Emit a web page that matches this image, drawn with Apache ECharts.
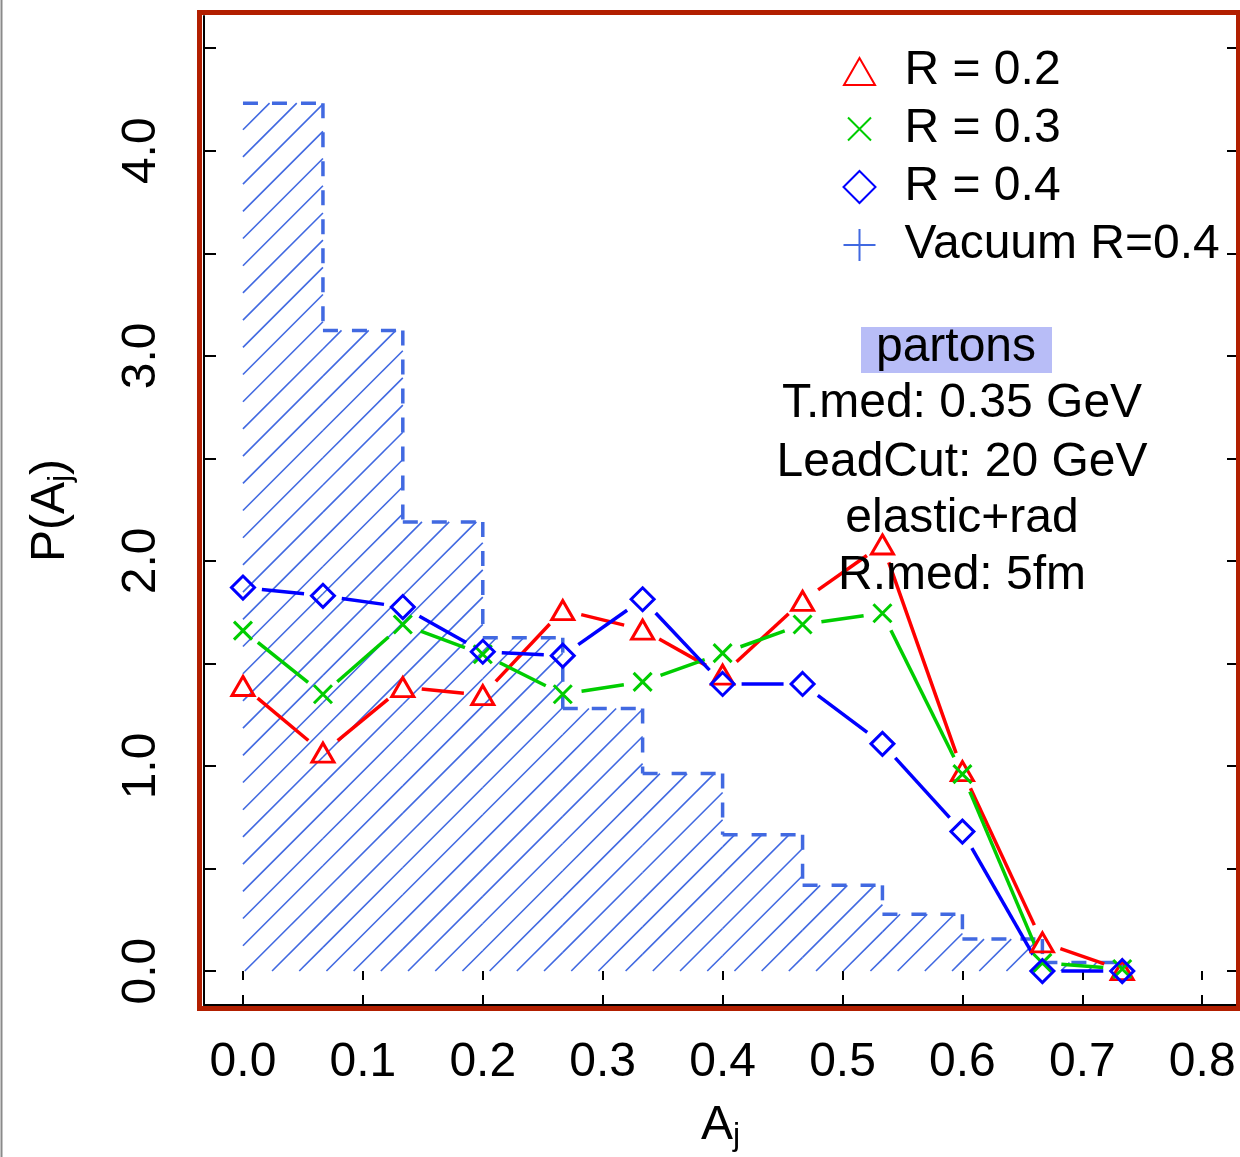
<!DOCTYPE html>
<html><head><meta charset="utf-8">
<script src="https://cdn.jsdelivr.net/npm/echarts@6/dist/echarts.min.js"></script>
<style>html,body{margin:0;padding:0;background:#fff}#c{width:1240px;height:1157px}</style>
</head><body><div id="c"></div>
<script>
// ---- data ----
const aj    = [0.0000, 0.0667, 0.1333, 0.2000, 0.2667, 0.3333, 0.4000, 0.4667, 0.5333, 0.6000, 0.6667, 0.7333];
const pR02  = [1.390, 1.065, 1.385, 1.345, 1.760, 1.665, 1.445, 1.805, 2.080, 0.975, 0.140, 0.005];
const pR03  = [1.660, 1.350, 1.690, 1.545, 1.350, 1.410, 1.550, 1.690, 1.745, 0.960, 0.040, 0.010];
const pR04  = [1.870, 1.830, 1.775, 1.557, 1.538, 1.813, 1.400, 1.400, 1.108, 0.680, 0.000, 0.000];
const binLo = [0.0000, 0.0667, 0.1333, 0.2000, 0.2667, 0.3333, 0.4000, 0.4667, 0.5333, 0.6000, 0.6667];
const binHi = [0.0667, 0.1333, 0.2000, 0.2667, 0.3333, 0.4000, 0.4667, 0.5333, 0.6000, 0.6667, 0.7333];
const pVac  = [4.232, 3.124, 2.190, 1.625, 1.280, 0.963, 0.665, 0.418, 0.277, 0.156, 0.042];
const xTicks  = [0.0, 0.1, 0.2, 0.3, 0.4, 0.5, 0.6, 0.7, 0.8];
const yTicks  = [0.0, 0.5, 1.0, 1.5, 2.0, 2.5, 3.0, 3.5, 4.0, 4.5];
const yLabels = [0.0, 1.0, 2.0, 3.0, 4.0];
const seriesNames = ['R = 0.2', 'R = 0.3', 'R = 0.4', 'Vacuum R=0.4'];
const infoLines = ['T.med: 0.35 GeV', 'LeadCut: 20 GeV', 'elastic+rad', 'R.med: 5fm'];

const FONT = 'Liberation Sans, Arial, Helvetica, sans-serif';
const FS = 48;
const RED = '#ff0000', GREEN = '#00cd00', BLUE = '#0000ff', RB = '#4169e1';

function segData(ys) {
  const out = [];
  for (let i = 0; i < ys.length - 1; i++) out.push([aj[i], ys[i], aj[i + 1], ys[i + 1]]);
  return out;
}
function segRender(color) {
  return function (params, api) {
    const p0 = api.coord([api.value(0), api.value(1)]);
    const p1 = api.coord([api.value(2), api.value(3)]);
    const dx = p1[0] - p0[0], dy = p1[1] - p0[1];
    const L = Math.hypot(dx, dy), g = 19;
    if (L <= 2 * g) return { type: 'group', children: [] };
    const ux = dx / L, uy = dy / L;
    return { type: 'line',
      shape: { x1: p0[0] + ux * g, y1: p0[1] + uy * g, x2: p1[0] - ux * g, y2: p1[1] - uy * g },
      style: { stroke: color, lineWidth: 3.5, fill: null } };
  };
}
const histData = binLo.map((lo, i) => [lo, binHi[i], pVac[i], i < pVac.length - 1 ? pVac[i + 1] : 0]);
function histRender(params, api) {
  const lo = api.value(0), hi = api.value(1), h = api.value(2), nh = api.value(3);
  const tl = api.coord([lo, h]), br = api.coord([hi, 0]);
  const x0 = tl[0], y0 = tl[1], x1 = br[0], y1 = br[1];
  const children = [];
  const sp = 27.2, off = 372.7;
  const cmin = x0 + y0, cmax = x1 + y1;
  const k = Math.ceil((cmin - off) / sp);
  for (let c = off + k * sp; c <= cmax; c += sp) {
    const xa = Math.max(x0, c - y1), xb = Math.min(x1, c - y0);
    if (xb > xa) children.push({ type: 'line', shape: { x1: xa, y1: c - xa, x2: xb, y2: c - xb },
      style: { stroke: RB, lineWidth: 1.6 } });
  }
  const dash = { stroke: RB, lineWidth: 3.5, lineDash: [15, 14] };
  children.push({ type: 'line', shape: { x1: x0, y1: y0, x2: x1, y2: y0 }, style: dash });
  const pn = api.coord([hi, nh]);
  children.push({ type: 'line', shape: { x1: x1, y1: y0, x2: x1, y2: pn[1] }, style: dash });
  return { type: 'group', children };
}

const chart = echarts.init(document.getElementById('c'), null, { renderer: 'canvas' });
const richName = {
  a: { fontSize: FS, fontFamily: FONT, color: '#000', lineHeight: 48, verticalAlign: 'top' },
  s: { fontSize: 32, fontFamily: FONT, color: '#000', lineHeight: 50, verticalAlign: 'bottom' }
};
const infoGraphics = infoLines.map((t, i) => ({
  type: 'text', x: 962, y: [404, 462.5, 518.5, 576][i], z: 101,
  style: { text: t, fontSize: FS, fontFamily: FONT, fill: '#000', align: 'center', verticalAlign: 'middle' }
}));

chart.setOption({
  animation: false,
  backgroundColor: '#fff',
  grid: { left: 204, right: 3, top: 16, bottom: 152, containLabel: false, outerBoundsMode: 'none' },
  xAxis: [
    { type: 'value', min: -0.0325, max: 0.829, position: 'bottom',
      axisLine: { show: true, onZero: false, lineStyle: { color: '#000', width: 2 } },
      axisTick: { show: true, inside: true, length: 10, customValues: xTicks, lineStyle: { color: '#000', width: 2 } },
      axisLabel: { show: true, customValues: xTicks, margin: 34, fontSize: FS, fontFamily: FONT, color: '#000',
        formatter: v => v.toFixed(1) },
      splitLine: { show: false },
      name: '{a|A}{s|j}', nameLocation: 'middle', nameGap: 97,
      nameTextStyle: { rich: richName } },
    { type: 'value', min: -0.0325, max: 0.829, position: 'top',
      axisLine: { show: false },
      axisTick: { show: true, inside: true, length: 9, customValues: xTicks, lineStyle: { color: '#000', width: 2 } },
      axisLabel: { show: false }, splitLine: { show: false } }
  ],
  yAxis: [
    { type: 'value', min: -0.1655, max: 4.657, position: 'left',
      axisLine: { show: true, onZero: false, lineStyle: { color: '#000', width: 2 } },
      axisTick: { show: true, inside: true, length: 12, customValues: yTicks, lineStyle: { color: '#000', width: 2 } },
      axisLabel: { show: true, customValues: yLabels, rotate: 90, margin: 38, fontSize: FS, fontFamily: FONT, color: '#000',
        formatter: v => v.toFixed(1) },
      splitLine: { show: false },
      name: '{a|P(A}{s|j}{a|)}', nameLocation: 'middle', nameGap: 127, nameRotate: 90,
      nameTextStyle: { rich: richName } },
    { type: 'value', min: -0.1655, max: 4.657, position: 'right',
      axisLine: { show: true, onZero: false, lineStyle: { color: '#000', width: 2 } },
      axisTick: { show: true, inside: true, length: 10, customValues: yTicks, lineStyle: { color: '#000', width: 2 } },
      axisLabel: { show: false }, splitLine: { show: false } }
  ],
  legend: {
    orient: 'vertical', left: 836, top: 37, itemWidth: 32, itemHeight: 32, itemGap: 0,
    selectedMode: false,
    textStyle: { fontSize: FS, fontFamily: FONT, color: '#000', lineHeight: 58, padding: [0, 0, 0, 24] },
    data: [
      { name: seriesNames[0], icon: 'path://M16,3 L31.5,30 L0.5,30 Z M0,0 M32,32',
        itemStyle: { color: 'none', borderColor: RED, borderWidth: 2 } },
      { name: seriesNames[1], icon: 'path://M4.5,4.5 L27.5,27.5 M27.5,4.5 L4.5,27.5 M0,0 M32,32',
        itemStyle: { color: 'none', borderColor: GREEN, borderWidth: 2 } },
      { name: seriesNames[2], icon: 'path://M16,0 L32,16 L16,32 L0,16 Z',
        itemStyle: { color: 'none', borderColor: BLUE, borderWidth: 2 } },
      { name: seriesNames[3], icon: 'path://M16,0 L16,32 M0,16 L32,16',
        itemStyle: { color: 'none', borderColor: RB, borderWidth: 2 } }
    ]
  },
  graphic: [
    { type: 'line', z: 100, shape: { x1: 1.5, y1: 0, x2: 1.5, y2: 1157 }, style: { stroke: '#8a8a8a', lineWidth: 2 } },
    { type: 'rect', z: 100, shape: { x: 199.5, y: 12.5, width: 1039, height: 996 }, style: { fill: null, stroke: '#b21f00', lineWidth: 5 } },
    { type: 'rect', z: 0, shape: { x: 861, y: 327, width: 191, height: 46 }, style: { fill: '#b8bdf7' } },
    { type: 'text', x: 956, y: 347.5, z: 101,
      style: { text: 'partons', fontSize: FS, fontFamily: FONT, fill: '#000', align: 'center', verticalAlign: 'middle' } }
  ].concat(infoGraphics),
  series: [
    { name: seriesNames[3], type: 'custom', renderItem: histRender, data: histData,
      encode: { x: [0, 1], y: [2, 3] }, itemStyle: { color: RB }, z: 1, silent: true },
    { name: 'segR02', type: 'custom', renderItem: segRender(RED), data: segData(pR02),
      encode: { x: [0, 2], y: [1, 3] }, z: 3, silent: true },
    { name: 'segR03', type: 'custom', renderItem: segRender(GREEN), data: segData(pR03),
      encode: { x: [0, 2], y: [1, 3] }, z: 4, silent: true },
    { name: 'segR04', type: 'custom', renderItem: segRender(BLUE), data: segData(pR04),
      encode: { x: [0, 2], y: [1, 3] }, z: 5, silent: true },
    { name: seriesNames[0], type: 'scatter', data: aj.map((x, i) => [x, pR02[i]]),
      symbol: 'path://M11,0 L22,19 L0,19 Z', symbolSize: [22, 19],
      itemStyle: { color: 'none', borderColor: RED, borderWidth: 3, opacity: 1 }, z: 6, silent: true },
    { name: seriesNames[1], type: 'scatter', data: aj.map((x, i) => [x, pR03[i]]),
      symbol: 'path://M0,0 L18,18 M18,0 L0,18', symbolSize: 18,
      itemStyle: { color: 'none', borderColor: GREEN, borderWidth: 3, opacity: 1 }, z: 7, silent: true },
    { name: seriesNames[2], type: 'scatter', data: aj.map((x, i) => [x, pR04[i]]),
      symbol: 'path://M11.5,0 L23,11.5 L11.5,23 L0,11.5 Z', symbolSize: 23,
      itemStyle: { color: 'none', borderColor: BLUE, borderWidth: 3, opacity: 1 }, z: 8, silent: true }
  ]
});
</script></body></html>
